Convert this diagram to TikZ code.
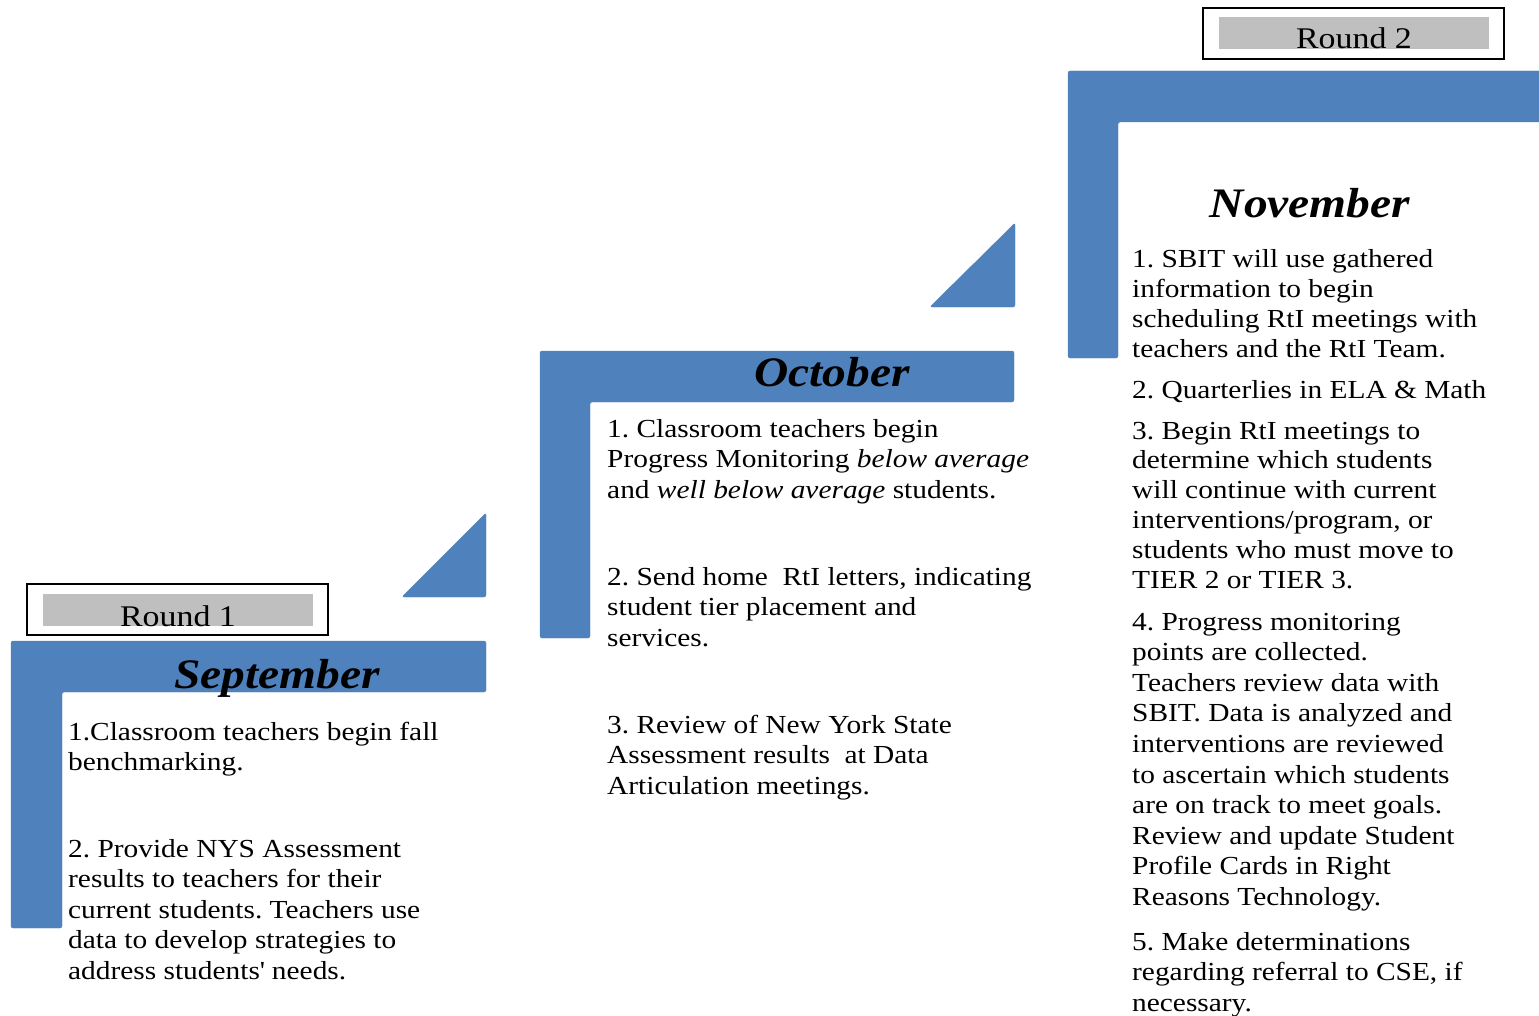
\documentclass[tikz,border=0pt]{standalone}
\usepackage{fontspec}
\setmainfont[FakeStretch=1.13]{Liberation Serif}
\usetikzlibrary{positioning}
\frenchspacing
\definecolor{stairblue}{HTML}{4F81BD}
\definecolor{roundgray}{HTML}{BFBFBF}
\newcommand{\steplines}[1]{\begin{tabular}[t]{@{}l@{}}#1\end{tabular}}
\tikzstyle{stair} = [fill=stairblue, draw=stairblue, rounded corners=2pt]
\tikzstyle{ramp} = [fill=stairblue, draw=stairblue, rounded corners=2pt, line join=round]
\tikzstyle{month} = [inner sep=0pt, anchor=base, font=\fontsize{42}{42}\selectfont\bfseries\itshape]
\tikzstyle{item} = [inner sep=0pt, anchor=base west, font=\fontsize{26}{30.6}\selectfont]
\tikzstyle{itemtight} = [inner sep=0pt, anchor=base west, font=\fontsize{26}{29.8}\selectfont]
\tikzstyle{roundbox} = [draw, line width=2pt, minimum width=301pt, minimum height=51pt, inner sep=0pt]
\tikzstyle{roundlabel} = [fill=roundgray, anchor=base, minimum width=270pt, text height=32pt, text depth=0pt, inner sep=0pt, font=\fontsize{30}{30}\selectfont]

\begin{document}
\begin{tikzpicture}[x=1pt, y=-1pt]
	\useasboundingbox (0,0) rectangle (1539,1016);
	
	% September step
	\path [stair] (11,641) -- (486,641) -- (486,692) -- (62,692) -- (62,928) -- (11,928) -- cycle;
	\path [ramp] (402,597) -- (486,513) -- (486,597) -- cycle;
	\node [roundbox] (round1) at (177.5,609.5) {};
	\node [roundlabel] (round1label) at (178,626) {Round 1};
	\node [month] (september) at (277,688) {September};
	\node [item] (sep1) at (68,740) {\steplines{1.Classroom teachers begin fall\\benchmarking.}};
	\node [item] (sep2) at (68,857) {\steplines{2. Provide NYS Assessment\\results to teachers for their\\current students. Teachers use\\data to develop strategies to\\address students\textquotesingle{} needs.}};
	
	% October step
	\path [stair] (540,351) -- (1014,351) -- (1014,402) -- (590,402) -- (590,638) -- (540,638) -- cycle;
	\path [ramp] (930,307) -- (1015,223) -- (1015,307) -- cycle;
	\node [month] (october) at (832,386) {October};
	\node [item] (oct1) at (607,437) {\steplines{1. Classroom teachers begin\\Progress Monitoring \textit{below average}\\and \textit{well below average} students.}};
	\node [item] (oct2) at (607,585) {\steplines{2. Send home\ \ RtI letters, indicating\\student tier placement and\\services.}};
	\node [item] (oct3) at (607,733) {\steplines{3. Review of New York State\\Assessment results\ \ at Data\\Articulation meetings.}};
	
	% November step
	\path [stair] (1068,71) -- (1545,71) -- (1545,122) -- (1118,122) -- (1118,358) -- (1068,358) -- cycle;
	\node [roundbox] (round2) at (1353.5,33.5) {};
	\node [roundlabel] (round2label) at (1354,49) {Round 2};
	\node [month] (november) at (1310,218) {November};
	\node [itemtight] (nov1) at (1132,268) {\steplines{1. SBIT will use gathered\\information to begin\\scheduling RtI meetings with\\teachers and the RtI Team.}};
	\node [item] (nov2) at (1132,398) {2. Quarterlies in ELA \& Math};
	\node [itemtight] (nov3) at (1132,439) {\steplines{3. Begin RtI meetings to\\determine which students\\will continue with current\\interventions/program, or\\students who must move to\\TIER 2 or TIER 3.}};
	\node [item] (nov4) at (1132,630) {\steplines{4. Progress monitoring\\points are collected.\\Teachers review data with\\SBIT. Data is analyzed and\\interventions are reviewed\\to ascertain which students\\are on track to meet goals.\\Review and update Student\\Profile Cards in Right\\Reasons Technology.}};
	\node [item] (nov5) at (1132,950) {\steplines{5. Make determinations\\regarding referral to CSE, if\\necessary.}};
\end{tikzpicture}
\end{document}
